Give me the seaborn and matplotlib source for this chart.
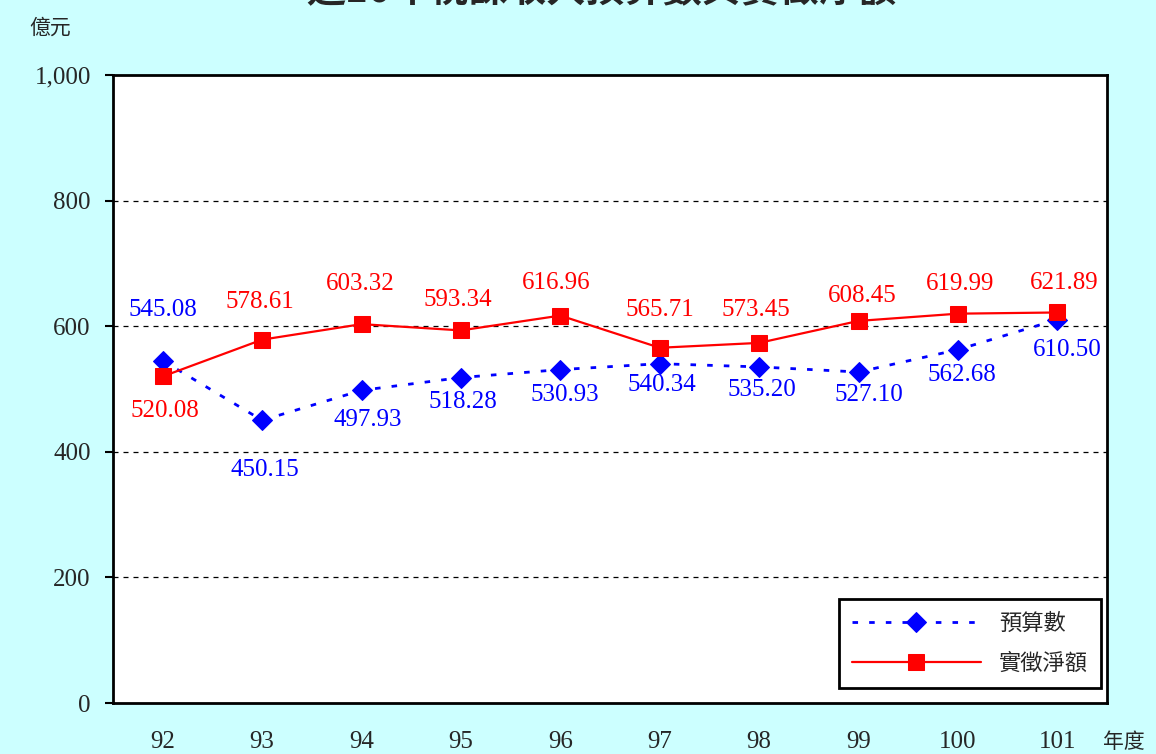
import numpy as np
import pandas as pd
import seaborn as sns
import matplotlib.pyplot as plt

years = ['92', '93', '94', '95', '96', '97', '98', '99', '100', '101']
budget = [545.08, 450.15, 497.93, 518.28, 530.93, 540.34, 535.20, 527.10, 562.68, 610.50]
actual = [520.08, 578.61, 603.32, 593.34, 616.96, 565.71, 573.45, 608.45, 619.99, 621.89]
budget_name = '預算數'
actual_name = '實徵淨額'
title = '近10年稅課收入預算數與實徵淨額'

# label offsets in pixels (dx, dy)
budget_off = [(0, 51), (3, -50), (6, -30), (2, -24), (4, -25), (2, -21), (3, -23), (10, -23), (4, -25), (10, -30)]
actual_off = [(2, -35), (-2, 38), (-1, 40), (-3, 30), (-4, 33), (0, 38), (-3, 33), (4, 25), (2, 30), (7, 29)]

df = pd.DataFrame({'pos': list(range(len(years))) * 2,
                   'value': budget + actual,
                   'series': [budget_name] * len(years) + [actual_name] * len(years)})

sns.set_theme(style='white')
plt.rcParams['font.family'] = ['Liberation Serif', 'Noto Sans CJK TC', 'DejaVu Sans']
bg = '#CCFFFF'
fig = plt.figure(figsize=(11.56, 7.54), dpi=100, facecolor=bg)
ax = fig.add_axes([0.0978, 0.0676, 0.8598, 0.8329])
ax.set_facecolor('white')

sns.lineplot(data=df[df.series == budget_name], x='pos', y='value', color='#0000FF',
             linestyle=(0, (2, 4)), linewidth=2, marker='D', markersize=10,
             markeredgecolor='#0000FF', label=budget_name, ax=ax)
sns.lineplot(data=df[df.series == actual_name], x='pos', y='value', color='#FF0000',
             linewidth=1.6, marker='s', markersize=11,
             markeredgecolor='#FF0000', label=actual_name, ax=ax)

for i, (v, (dx, dy)) in enumerate(zip(budget, budget_off)):
    ax.annotate(f'{v:.2f}', (i, v), xytext=(dx, dy), textcoords='offset pixels',
                ha='center', va='center', color='#0000FF', fontsize=18)
for i, (v, (dx, dy)) in enumerate(zip(actual, actual_off)):
    ax.annotate(f'{v:.2f}', (i, v), xytext=(dx, dy), textcoords='offset pixels',
                ha='center', va='center', color='#FF0000', fontsize=18)

ax.set_xlim(-0.5, len(years) - 0.5)
ax.set_ylim(0, 1000)
ax.set_yticks([0, 200, 400, 600, 800, 1000])
ax.set_yticklabels(['0', '200', '400', '600', '800', '1,000'], fontsize=18)
ax.set_xticks(np.arange(len(years)))
ax.set_xticklabels(years, fontsize=18)
ax.set_xticks(np.arange(len(years) + 1) - 0.5, minor=True)
ax.tick_params(axis='x', which='major', length=0, pad=20)
ax.tick_params(axis='x', which='minor', direction='in', length=8, width=1.5, color='black')
ax.tick_params(axis='y', length=6, width=1.5, direction='out', color='black', pad=10, left=True)
for y in [200, 400, 600, 800]:
    ax.axhline(y, color='black', linestyle=(0, (4, 4)), linewidth=0.9, zorder=0)
for s in ax.spines.values():
    s.set_color('black')
    s.set_linewidth(2)
ax.set_xlabel('')
ax.set_ylabel('')

leg = ax.legend(loc='lower right', bbox_to_anchor=(0.994, 0.024), borderaxespad=0,
                handlelength=5.8, frameon=True, fancybox=False, borderpad=0.6,
                labelspacing=0.75, prop={'family': ['Noto Sans CJK TC'], 'size': 16})
leg.get_frame().set_edgecolor('black')
leg.get_frame().set_linewidth(2)
leg.get_frame().set_alpha(1)

fig.text(0.043, 0.963, '億元', fontsize=15, ha='center', va='center', family=['Noto Sans CJK TC'])
fig.text(0.972, 0.016, '年度', fontsize=15, ha='center', va='center', family=['Noto Sans CJK TC'])
fig.text(0.52, 1.012, title, fontsize=28, fontweight='bold', ha='center', va='center',
         family=['Noto Sans CJK TC'])

fig.savefig('out.png', dpi=100, facecolor=bg)
